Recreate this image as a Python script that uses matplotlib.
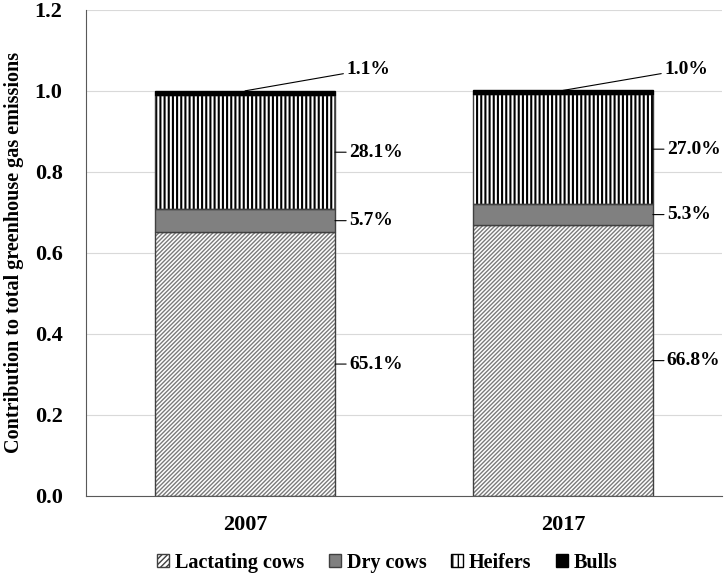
import numpy as np
import matplotlib
matplotlib.use("Agg")
import matplotlib.pyplot as plt
from matplotlib.patches import Patch

plt.rcParams['font.family'] = ['Liberation Serif', 'DejaVu Serif']
plt.rcParams['font.weight'] = 'bold'
plt.rcParams['hatch.linewidth'] = 1.0

years = ['2007', '2017']
lactating = [0.651, 0.668]
dry = [0.057, 0.053]
heifers = [0.281, 0.270]
bulls = [0.011, 0.010]
labels = [['65.1%', '5.7%', '28.1%', '1.1%'],
          ['66.8%', '5.3%', '27.0%', '1.0%']]

fig = plt.figure(figsize=(7.24, 5.78), dpi=100)
ax = fig.add_axes([0.119, 0.142, 0.878, 0.841])

x = np.arange(len(years))
w = 0.566
edge = '#404040'

lac = np.array(lactating)
dr = np.array(dry)
hf = np.array(heifers)
bl = np.array(bulls)

b1 = ax.bar(x, lac, w, color='white', edgecolor='#7a7a7a', hatch='////////', linewidth=0, zorder=2)
ax.bar(x, lac, w, fill=False, edgecolor=edge, linewidth=1, zorder=3)
ax.bar(x, dr, w, bottom=lac, color='#808080', edgecolor=edge, linewidth=1, zorder=3)
b3 = ax.bar(x, hf, w, bottom=lac + dr, color='white', edgecolor='black', hatch='||||', linewidth=0, zorder=2)
ax.bar(x, hf, w, bottom=lac + dr, fill=False, edgecolor=edge, linewidth=1, zorder=3)
ax.bar(x, bl, w, bottom=lac + dr + hf, color='black', edgecolor='black', linewidth=1, zorder=3)
for p in b3:
    if hasattr(p, 'set_hatch_linewidth'):
        p.set_hatch_linewidth(1.5)

for i in range(len(years)):
    right = x[i] + w / 2
    mids = [lac[i] / 2, lac[i] + dr[i] / 2, lac[i] + dr[i] + hf[i] / 2]
    for j, m in enumerate(mids):
        ax.annotate(labels[i][j], xy=(right, m), xytext=(10, 0), textcoords='offset points',
                    va='center', ha='left', fontsize=14, fontweight='bold',
                    arrowprops=dict(arrowstyle='-', color='black', lw=0.8, shrinkA=0, shrinkB=0))
    top = lac[i] + dr[i] + hf[i] + bl[i]
    ax.annotate(labels[i][3], xy=(x[i], top), xytext=(right + 0.035, 1.053),
                va='center', ha='left', fontsize=14, fontweight='bold',
                arrowprops=dict(arrowstyle='-', color='black', lw=0.8, shrinkA=0, shrinkB=0))

ax.set_xlim(-0.5, 1.5)
ax.set_ylim(0, 1.2)
yt = np.arange(0, 1.21, 0.2)
ax.set_yticks(yt)
ax.set_yticklabels(['%.1f' % v for v in yt], fontweight='bold')
ax.set_xticks(x)
ax.set_xticklabels(years, fontweight='bold')
ax.tick_params(axis='both', labelsize=16, length=0)
ax.tick_params(axis='x', pad=14)
ax.tick_params(axis='y', pad=17)
ax.yaxis.grid(True, color='#d9d9d9', lw=0.8, zorder=0)
ax.set_axisbelow(True)
for s in ['top', 'right']:
    ax.spines[s].set_visible(False)
ax.spines['left'].set_color('#595959')
ax.spines['bottom'].set_color('#595959')
ax.set_ylabel('Contribution to total greenhouse gas emissions', fontsize=14.5,
              fontweight='bold', labelpad=8)

handles = [Patch(facecolor='white', edgecolor='#404040', hatch='//////'),
           Patch(facecolor='#808080', edgecolor='#404040'),
           Patch(facecolor='white', edgecolor='black', hatch='|||'),
           Patch(facecolor='black', edgecolor='black')]
fig.legend(handles, ['Lactating cows', 'Dry cows', 'Heifers', 'Bulls'],
           loc='center', bbox_to_anchor=(0.535, 0.026), ncol=4, frameon=False,
           prop={'size': 14.5, 'weight': 'bold'}, handlelength=0.6, handleheight=0.6,
           handletextpad=0.3, columnspacing=1.2)

fig.savefig('out.png', dpi=100)
